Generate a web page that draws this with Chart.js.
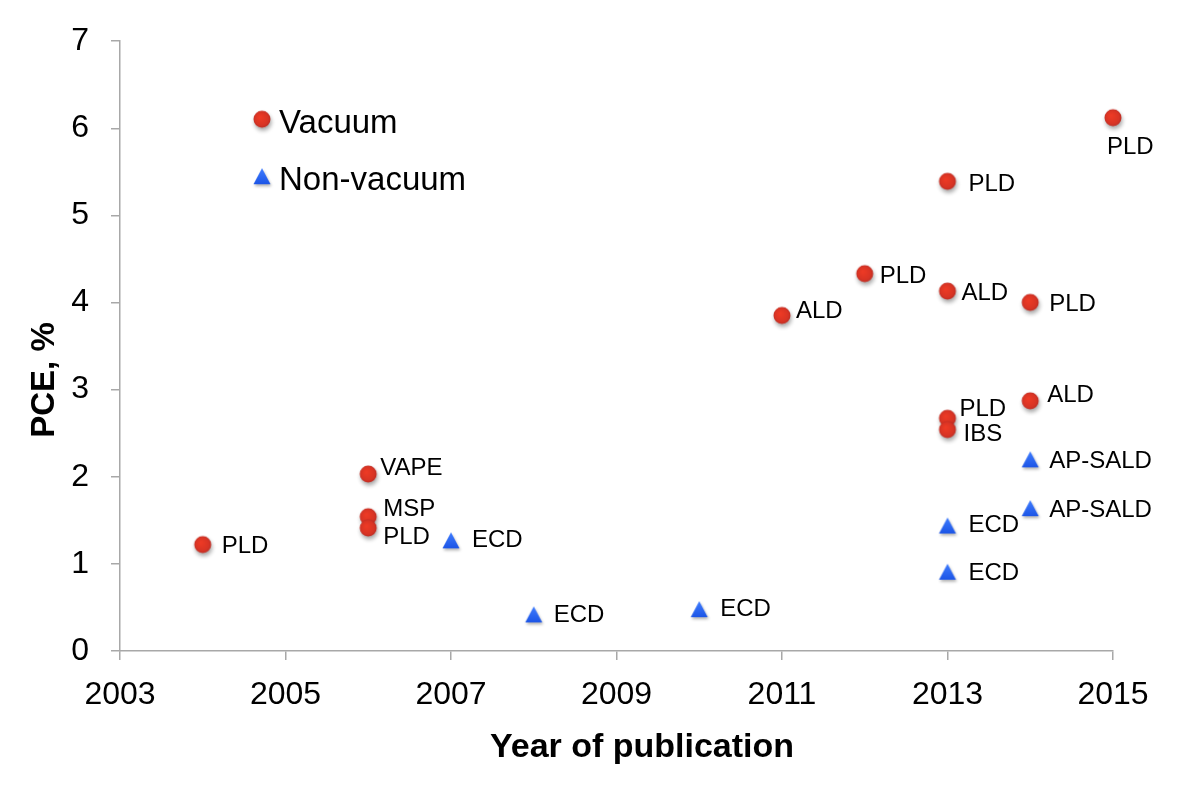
<!DOCTYPE html>
<html lang="en">
<head>
  <meta charset="UTF-8">
  <title>PCE vs year of publication</title>
  <script src="https://cdn.jsdelivr.net/npm/chart.js"></script>
  <style>
    * { margin: 0; padding: 0; }
    body { background: #fff; width: 1200px; height: 790px; overflow: hidden; }
    canvas { display: block; }
  </style>
</head>
<body>
  <canvas id="chart" width="1200" height="790"></canvas>
  <script>
    // --- data ---
    const vacuumYears  = [2004, 2006, 2006, 2006, 2011, 2012, 2013, 2013, 2013, 2013, 2014, 2014, 2015];
    const vacuumPCE    = [1.21, 2.02, 1.53, 1.40, 3.84, 4.32, 5.38, 4.12, 2.66, 2.53, 3.99, 2.86, 6.11];
    const vacuumLabels = ['PLD', 'VAPE', 'MSP', 'PLD', 'ALD', 'PLD', 'PLD', 'ALD', 'PLD', 'IBS', 'PLD', 'ALD', 'PLD'];

    const nonVacYears  = [2007, 2008, 2010, 2013, 2013, 2014, 2014];
    const nonVacPCE    = [1.27, 0.42, 0.48, 1.44, 0.91, 2.20, 1.64];
    const nonVacLabels = ['ECD', 'ECD', 'ECD', 'ECD', 'ECD', 'AP-SALD', 'AP-SALD'];

    const seriesNames = ['Vacuum', 'Non-vacuum'];
    const xTicks = [2003, 2005, 2007, 2009, 2011, 2013, 2015];
    const yTicks = [0, 1, 2, 3, 4, 5, 6, 7];

    // label placement relative to each marker (dx to text start, dy to text middle)
    const vacuumLabelOffsets = [[19, 1], [12, -7], [15, -8], [15, 8], [14, -5], [15, 2], [21, 2], [14, 1], [12, -10], [16, 4], [19, 1], [17, -6], [-6, 29]];
    const nonVacLabelOffsets = [[21, 0], [20, 1], [21, 0], [21, 0], [21, 2], [19, 2], [19, 2]];

    const FONT = "'Liberation Sans', Arial, Helvetica, sans-serif";
    const axisGray = '#a8a8a8';

    // shaded marker sprites
    function sphereSprite() {
      const c = document.createElement('canvas');
      c.width = 32; c.height = 32;
      const g = c.getContext('2d');
      g.shadowColor = 'rgba(0,0,0,0.35)';
      g.shadowBlur = 4;
      g.shadowOffsetX = 1;
      g.shadowOffsetY = 3;
      const grad = g.createRadialGradient(14, 13, 1, 16, 15, 9);
      grad.addColorStop(0, '#ec3a25');
      grad.addColorStop(0.7, '#d83424');
      grad.addColorStop(1, '#b92c25');
      g.fillStyle = grad;
      g.beginPath();
      g.arc(16, 15, 8.5, 0, Math.PI * 2);
      g.fill();
      return c;
    }
    function triangleSprite() {
      const c = document.createElement('canvas');
      c.width = 32; c.height = 32;
      const g = c.getContext('2d');
      g.shadowColor = 'rgba(0,0,0,0.3)';
      g.shadowBlur = 3;
      g.shadowOffsetX = 1;
      g.shadowOffsetY = 2;
      const grad = g.createLinearGradient(0, 8, 0, 24);
      grad.addColorStop(0, '#3f7dff');
      grad.addColorStop(1, '#1c55e6');
      g.fillStyle = grad;
      g.beginPath();
      g.moveTo(16, 8);
      g.lineTo(24.5, 24);
      g.lineTo(7.5, 24);
      g.closePath();
      g.fill();
      return c;
    }
    const sphere = sphereSprite();
    const tri = triangleSprite();

    const toPoints = (xs, ys) => xs.map((x, i) => ({ x, y: ys[i] }));

    // draws point labels, axis titles and the in-plot legend
    const annotations = {
      id: 'annotations',
      afterDatasetsDraw(chart) {
        const { ctx, chartArea } = chart;
        ctx.save();
        ctx.fillStyle = '#000';
        ctx.textBaseline = 'middle';
        ctx.textAlign = 'left';
        ctx.font = '24px ' + FONT;
        const sets = [
          [vacuumLabels, vacuumLabelOffsets],
          [nonVacLabels, nonVacLabelOffsets]
        ];
        sets.forEach(([labels, offs], di) => {
          chart.getDatasetMeta(di).data.forEach((el, i) => {
            ctx.fillText(labels[i], el.x + offs[i][0], el.y + offs[i][1]);
          });
        });

        // legend
        ctx.font = '33px ' + FONT;
        const lx = chartArea.left + 142;
        ctx.drawImage(sphere, lx - 16, chartArea.top + 78 - 15);
        ctx.fillText(seriesNames[0], lx + 17, chartArea.top + 83);
        ctx.drawImage(tri, lx - 16, chartArea.top + 135 - 16);
        ctx.fillText(seriesNames[1], lx + 17, chartArea.top + 140);

        // axis titles
        ctx.font = 'bold 34px ' + FONT;
        ctx.textAlign = 'center';
        ctx.fillText('Year of publication', 642, 748);
        ctx.font = 'bold 33px ' + FONT;
        ctx.translate(45, 380);
        ctx.rotate(-Math.PI / 2);
        ctx.fillText('PCE, %', 0, 0);
        ctx.restore();
      }
    };

    new Chart(document.getElementById('chart'), {
      type: 'scatter',
      data: {
        datasets: [
          {
            label: seriesNames[0],
            data: toPoints(vacuumYears, vacuumPCE),
            pointStyle: sphere,
            clip: false
          },
          {
            label: seriesNames[1],
            data: toPoints(nonVacYears, nonVacPCE),
            pointStyle: tri,
            clip: false
          }
        ]
      },
      options: {
        responsive: false,
        devicePixelRatio: 1,
        animation: false,
        layout: { padding: { top: 37, right: 87, left: 0, bottom: 0 } },
        plugins: {
          legend: { display: false },
          tooltip: { enabled: false }
        },
        scales: {
          x: {
            type: 'linear',
            min: 2003,
            max: 2015,
            afterBuildTicks: s => { s.ticks = xTicks.map(v => ({ value: v })); },
            afterFit: s => { s.height = 139; },
            grid: { drawOnChartArea: false, drawTicks: true, tickLength: 9, color: axisGray, lineWidth: 1.5 },
            border: { color: axisGray, width: 1.5 },
            ticks: {
              color: '#000',
              font: { family: FONT, size: 32 },
              padding: 16,
              maxRotation: 0,
              callback: v => String(v)
            }
          },
          y: {
            min: 0,
            max: 7,
            afterBuildTicks: s => { s.ticks = yTicks.map(v => ({ value: v })); },
            afterFit: s => { s.width = 120; },
            grid: { drawOnChartArea: false, drawTicks: true, tickLength: 9, color: axisGray, lineWidth: 1.5 },
            border: { color: axisGray, width: 1.5 },
            ticks: {
              color: '#000',
              font: { family: FONT, size: 32 },
              padding: 22,
              callback: v => String(v)
            }
          }
        }
      },
      plugins: [annotations]
    });
  </script>
</body>
</html>
